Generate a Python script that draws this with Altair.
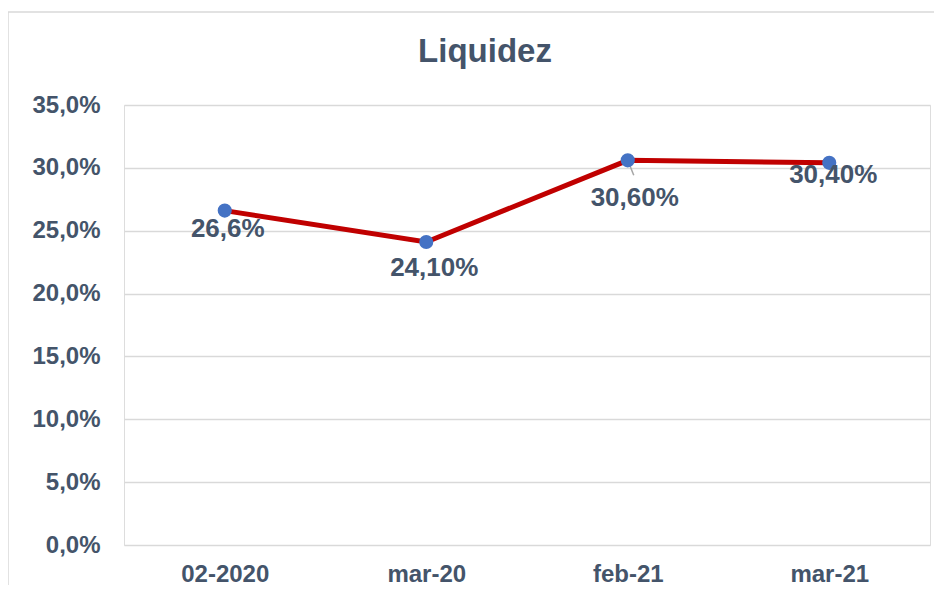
import altair as alt
import pandas as pd

categories = ["02-2020", "mar-20", "feb-21", "mar-21"]
values = [0.266, 0.241, 0.306, 0.304]
labels = ["26,6%", "24,10%", "30,60%", "30,40%"]
title_text = "Liquidez"

df = pd.DataFrame({"cat": categories, "val": values, "lab": labels})

FONT = "Liberation Sans, Arial, sans-serif"
TXT = "#44546a"

x = alt.X("cat:N", sort=categories, title=None,
          scale=alt.Scale(type="point", padding=0.5),
          axis=alt.Axis(labelAngle=0, labelFontSize=24, labelFontWeight="bold",
                        labelColor=TXT, labelFont=FONT, ticks=False, domain=False,
                        labelPadding=17, grid=False))
y = alt.Y("val:Q", title=None,
          scale=alt.Scale(domain=[0, 0.35], nice=False),
          axis=alt.Axis(values=[0, 0.05, 0.1, 0.15, 0.2, 0.25, 0.3, 0.35],
                        labelExpr="replace(format(datum.value, '.1%'), '.', ',')",
                        labelFontSize=24, labelFontWeight="bold", labelColor=TXT,
                        labelFont=FONT, ticks=False, domain=False, labelPadding=24,
                        gridColor="#d9d9d9", gridWidth=1.5))

base = alt.Chart(df)

line = base.mark_line(color="#c00000", strokeWidth=5).encode(x=x, y=y)
pts = base.mark_point(filled=True, color="#4472c4", size=200, opacity=1).encode(x=x, y=y)

leader = base.transform_filter(alt.datum.cat == "feb-21").mark_rule(
    color="#a6a6a6", strokeWidth=1.5, x2Offset=6, y2Offset=15
).encode(x=x, y=y, x2="cat:N", y2="val:Q")

def lab(cat, dx, dy):
    return base.transform_filter(alt.datum.cat == cat).mark_text(
        font=FONT, fontSize=26, fontWeight="bold", color=TXT,
        dx=dx, dy=dy, baseline="middle", align="center"
    ).encode(x=x, y=y, text="lab:N")

labs = [lab("02-2020", 3, 18), lab("mar-20", 8, 26), lab("feb-21", 7, 38), lab("mar-21", 4, 12)]

title = alt.Chart(pd.DataFrame({"t": [title_text]})).mark_text(
    font=FONT, fontSize=33, fontWeight="bold", color=TXT, baseline="middle", align="center"
).encode(text="t:N", x=alt.value(361), y=alt.value(-53))

frame_left = alt.Chart(pd.DataFrame({"a": [0]})).mark_rule(color="#d9d9d9", strokeWidth=1.5).encode(
    x=alt.value(-116), y=alt.value(-93), y2=alt.value(520))
frame_top = alt.Chart(pd.DataFrame({"a": [0]})).mark_rule(color="#d9d9d9", strokeWidth=1.5).encode(
    x=alt.value(-116), x2=alt.value(900), y=alt.value(-93))

chart = alt.layer(frame_left, frame_top, title, line, leader, pts, *labs).properties(
    width=806, height=440,
    autosize=alt.AutoSizeParams(type="none"),
    padding={"left": 116, "top": 97, "right": 4, "bottom": 40},
).configure_view(stroke=None).configure(background="white")

chart.save("out.html", embed_options={"renderer": "svg", "actions": False})
